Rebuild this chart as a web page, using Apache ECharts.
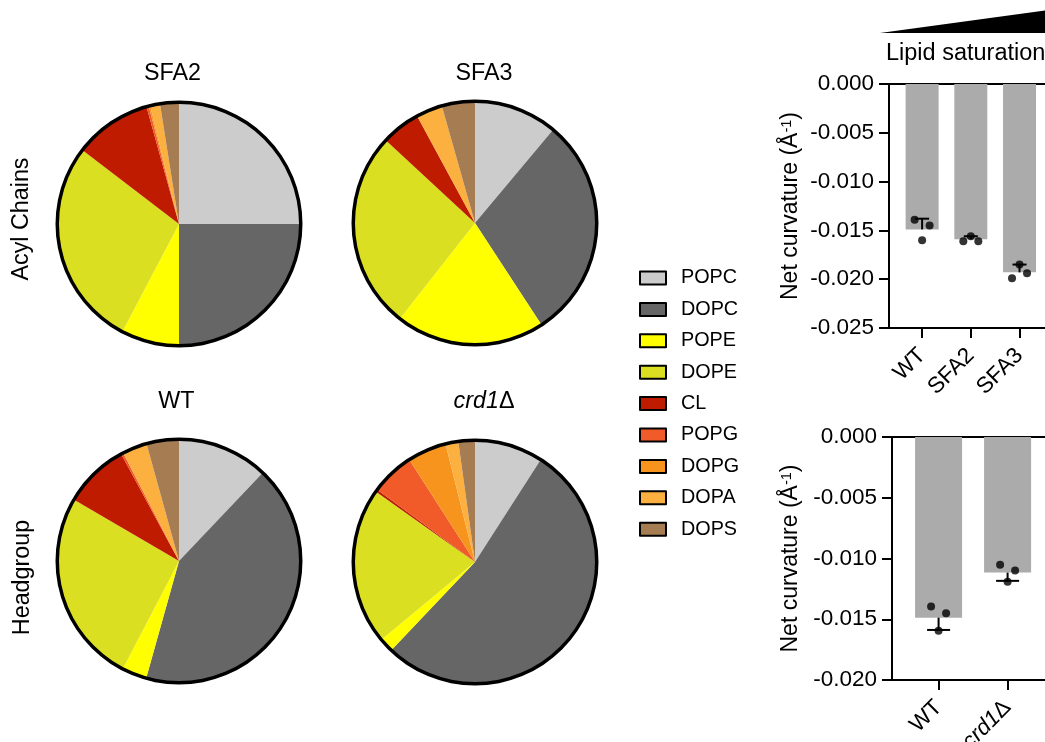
<!DOCTYPE html>
<html><head><meta charset="utf-8">
<script src="https://cdn.jsdelivr.net/npm/echarts@6/dist/echarts.min.js"></script>
<style>html,body{margin:0;padding:0;background:#fff}#c{width:1045px;height:742px}</style>
</head><body><div id="c"></div>
<script>
// ---- pie data (percent of lipid composition) ----
const lipids = ['POPC','DOPC','POPE','DOPE','CL','POPG','DOPG','DOPA','DOPS'];
const lipidColors = ['#CCCCCC','#666666','#FFFF00','#DBDF22','#BE1B00','#F15A29','#F7941E','#FBB040','#A67C52'];
const sfa2Pct = [25.0, 25.0, 7.7, 27.7, 10.3, 0.3, 0.2, 1.3, 2.5];
const sfa3Pct = [11.1, 29.7, 19.8, 26.3, 5.2, 0, 0, 3.5, 4.4];
const wtPct   = [12.1, 42.3, 3.3, 25.8, 8.7, 0.3, 0, 3.3, 4.3];
const crd1Pct = [9.1, 53.1, 1.9, 20.9, 0.3, 5.8, 5.2, 1.7, 2.2];

// ---- bar data: lipid saturation ----
const satCats   = ['WT','SFA2','SFA3'];
const satMean   = [-0.0149, -0.0159, -0.0193];
const satErrEnd = [-0.0138, -0.0156, -0.0185];
const satRep1   = [-0.0139, -0.0161, -0.0199];
const satRep2   = [-0.0160, -0.0156, -0.0185];
const satRep3   = [-0.0145, -0.0161, -0.0194];

// ---- bar data: headgroup ----
const hgCats   = ['WT','crd1Δ'];
const hgMean   = [-0.01487, -0.01116];
const hgErrEnd = [-0.01588, -0.01184];
const hgRep1   = [-0.01396, -0.01052];
const hgRep2   = [-0.01594, -0.01192];
const hgRep3   = [-0.01450, -0.01099];

const FONT = '"Liberation Sans", Arial, Helvetica, sans-serif';
const JIT = [-7.5, 0, 7.5];

const chart = echarts.init(document.getElementById('c'));

function pieSeries(center, vals){
  return [{
    type:'pie', center: center, radius: 121, startAngle: 90, clockwise: true,
    data: lipids.map((n,i)=>({name:n, value:vals[i], itemStyle:{color:lipidColors[i]}})),
    label:{show:false}, labelLine:{show:false}, itemStyle:{borderWidth:0},
    emphasis:{disabled:true}, silent:true, z:2
  },{
    type:'pie', center: center, radius:[120,123.5], startAngle:90,
    data:[{name:'ring', value:1, itemStyle:{color:'#000'}}],
    label:{show:false}, labelLine:{show:false}, emphasis:{disabled:true}, silent:true, z:3
  }];
}

function errRender(cap){
  return function(params, api){
    const x = api.value(0), m = api.value(1), e = api.value(2);
    const p0 = api.coord([x, m]), p1 = api.coord([x, e]);
    const hw = cap/2;
    return {type:'group', children:[
      {type:'line', shape:{x1:p0[0], y1:p0[1], x2:p1[0], y2:p1[1]}, style:{stroke:'#000', lineWidth:2}},
      {type:'line', shape:{x1:p1[0]-hw, y1:p1[1], x2:p1[0]+hw, y2:p1[1]}, style:{stroke:'#000', lineWidth:2}}
    ]};
  };
}

function barSet(xi, yi, cats, mean, errEnd, reps, barW, cap){
  const out = [];
  out.push({type:'bar', xAxisIndex:xi, yAxisIndex:yi, barWidth:barW,
    data: cats.map((c,i)=>[i, mean[i]]), itemStyle:{color:'#ABABAB'}, silent:true, z:2});
  out.push({type:'custom', xAxisIndex:xi, yAxisIndex:yi, renderItem: errRender(cap),
    data: cats.map((c,i)=>[i, mean[i], errEnd[i]]), silent:true, z:3});
  reps.forEach((r,k)=>{
    out.push({type:'scatter', xAxisIndex:xi, yAxisIndex:yi, symbol:'circle', symbolSize:8,
      symbolOffset:[JIT[k],0], itemStyle:{color:'#000'},
      data: cats.map((c,i)=>[i, r[i]]), silent:true, z:4});
  });
  return out;
}

const axisLineStyle = {color:'#000', width:2};

function xAxes(gi, cats, min, max, margin){
  const idx = cats.map((c,i)=>i);
  return [{
    gridIndex:gi, type:'value', min:min, max:max, position:'bottom',
    axisLine:{show:true, onZero:false, lineStyle:axisLineStyle},
    axisTick:{show:true, length:10, lineStyle:{color:'#000', width:2}, customValues: idx},
    axisLabel:{customValues: idx, rotate:45, margin:margin, verticalAlign:'middle',
      color:'#000', fontSize:22.5, fontFamily:FONT, fontStyle:'normal',
      formatter: v => { const s = cats[Math.round(v)];
        return s.indexOf('Δ') > 0 ? '{it|' + s.replace('Δ','') + '}{n|Δ}' : '{n|' + s + '}'; },
      rich:{
        it:{fontStyle:'italic', fontSize:22.5, fontFamily:FONT, color:'#000'},
        n:{fontStyle:'normal', fontSize:22.5, fontFamily:FONT, color:'#000'}
      }},
    splitLine:{show:false}
  },{
    gridIndex:gi, type:'value', min:min, max:max, position:'top',
    axisLine:{show:true, onZero:false, lineStyle:axisLineStyle},
    axisTick:{show:false}, axisLabel:{show:false}, splitLine:{show:false}
  }];
}

function yAxis(gi, min, gap){
  return {
    gridIndex:gi, type:'value', min:min, max:0, interval:0.005,
    axisLine:{show:true, onZero:false, lineStyle:axisLineStyle},
    axisTick:{show:true, length:10, lineStyle:{color:'#000', width:2}},
    axisLabel:{color:'#000', fontSize:22.5, fontFamily:FONT, margin:15, formatter: v => v.toFixed(3)},
    splitLine:{show:false},
    name:'Net curvature (Å{sup|-1})', nameLocation:'middle', nameGap:gap, nameRotate:90,
    nameTextStyle:{color:'#000', fontSize:23, fontFamily:FONT,
      rich:{sup:{fontSize:14.5, fontFamily:FONT, color:'#000', verticalAlign:'top'}}}
  };
}

function txt(x, y, s, opts){
  opts = opts || {};
  const size = opts.size || 23.3;
  const style = {text:s, fill:'#000', textAlign: opts.align || 'center', textVerticalAlign:'middle',
      font: size + 'px ' + FONT};
  if (opts.rich) style.rich = opts.rich;
  return {type:'text', x:x, y:y, rotation: opts.rot || 0, silent:true, style: style};
}

const option = {
  animation:false,
  backgroundColor:'#fff',
  legend:{
    data: lipids, orient:'vertical', left:639, top:268, padding:0,
    icon:'rect', itemWidth:26, itemHeight:13, itemGap:11.4,
    itemStyle:{borderColor:'#000', borderWidth:2},
    textStyle:{color:'#000', fontSize:19.8, fontFamily:FONT, lineHeight:13, padding:[0,0,0,10]},
    selectedMode:false
  },
  grid:[
    {left:889, right:0, top:84, height:244, outerBoundsMode:'none', containLabel:false},
    {left:892, right:0, top:437, height:243, outerBoundsMode:'none', containLabel:false}
  ],
  xAxis: [].concat(xAxes(0, satCats, -0.68, 2.523, 24), xAxes(1, hgCats, -0.675, 1.542, 24)),
  yAxis: [yAxis(0, -0.025, 87), yAxis(1, -0.02, 90)],
  series: [].concat(
    pieSeries([179,224], sfa2Pct),
    pieSeries([475,223], sfa3Pct),
    pieSeries([179,561], wtPct),
    pieSeries([475,562], crd1Pct),
    barSet(0, 0, satCats, satMean, satErrEnd, [satRep1, satRep2, satRep3], 33, 14),
    barSet(2, 1, hgCats, hgMean, hgErrEnd, [hgRep1, hgRep2, hgRep3], 47, 23)
  ),
  graphic: [
    txt(172.5, 73.5, 'SFA2'),
    txt(484, 73.5, 'SFA3'),
    txt(176.3, 402, 'WT'),
    txt(484, 402, '{i|crd1}Δ', {rich:{i:{fontStyle:'italic', fontSize:23.3, fontFamily:FONT, fill:'#000'}}}),
    txt(22, 219, 'Acyl Chains', {rot:Math.PI/2}),
    txt(23, 577.5, 'Headgroup', {rot:Math.PI/2}),
    txt(886, 54, 'Lipid saturation', {align:'left', size:23.5}),
    {type:'polygon', silent:true, shape:{points:[[880,33],[1070,33],[1070,7]]}, style:{fill:'#000'}}
  ]
};
chart.setOption(option);
</script></body></html>
